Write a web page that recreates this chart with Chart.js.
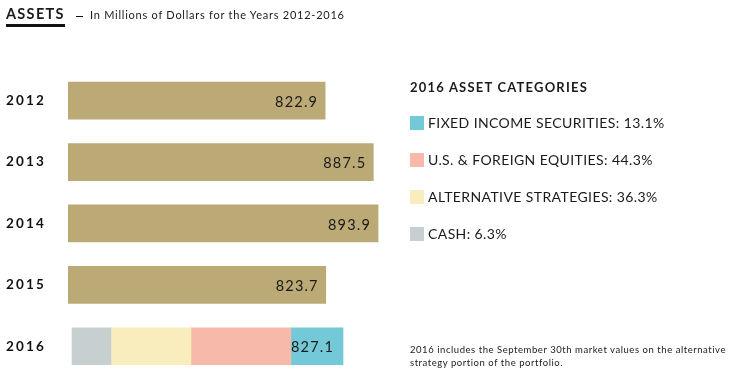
<!DOCTYPE html>
<html>
<head>
<meta charset="utf-8">
<script src="https://cdn.jsdelivr.net/npm/chart.js@4.4.1/dist/chart.umd.min.js"></script>
<style>
  html, body { margin: 0; padding: 0; background: #fff; width: 742px; height: 385px; overflow: hidden; font-family: Lato, "Open Sans", sans-serif; color: #1a1a1a; }
  #wrap { position: absolute; left: 0; top: 0; width: 742px; height: 385px; }
  #chart { position: absolute; left: 0; top: 0; }
  #title { position: absolute; left: 6px; top: 5px; white-space: nowrap; height: 24px; }
  #title .main { position: absolute; left: 0; top: 0; font-size: 14.5px; font-weight: 700; letter-spacing: 1.3px; line-height: 18px; }
  #title .uline { position: absolute; left: 0; top: 19px; width: 59px; height: 2.6px; background: #111; }
  #title .dash { position: absolute; left: 70px; top: 10.5px; width: 7px; height: 1.8px; background: #111; }
  #title .sub { position: absolute; left: 84px; top: 3px; font-size: 11px; letter-spacing: 0.75px; line-height: 14px; }
  #legend { position: absolute; left: 410px; top: 79px; }
  #legend .head { font-size: 13px; font-weight: 700; letter-spacing: 1.2px; margin-bottom: 9px; white-space: nowrap; }
  #legend .item { display: flex; align-items: center; height: 37px; font-size: 14px; letter-spacing: 0.4px; white-space: nowrap; }
  #legend .sw { width: 14px; height: 14px; margin-right: 4px; }
  #note { position: absolute; left: 410px; top: 343px; font-size: 9.5px; line-height: 13px; letter-spacing: 0.55px; width: 330px; }
</style>
</head>
<body>
<div id="wrap">
  <canvas id="chart" width="742" height="385"></canvas>
  <div id="title"><span class="main">ASSETS</span><span class="uline"></span><span class="dash"></span><span class="sub">In Millions of Dollars for the Years 2012-2016</span></div>
  <div id="legend"></div>
  <div id="note">2016 includes the September 30th market values on the alternative strategy portion of the portfolio.</div>
</div>
<script>
// ---- data ----
const years = ["2012", "2013", "2014", "2015", "2016"];
const assetTotals = [822.9, 887.5, 893.9, 823.7, 827.1];
// 2016 breakdown (bar segments, millions, as drawn)
const segmentNames = ["CASH", "ALTERNATIVE STRATEGIES", "U.S. & FOREIGN EQUITIES", "FIXED INCOME SECURITIES"];
const segmentValues2016 = [119.0, 244.0, 305.0, 159.1];
const segmentPercents = [6.3, 36.3, 44.3, 13.1];
const legendTitle = "2016 ASSET CATEGORIES";

// ---- styles ----
const goldColor = "#BBAA76";
const segmentColors = ["#C8CFD1", "#FAEDBD", "#F7B9AA", "#74C9D8"];

// legend (top-down order: fixed income, equities, alternatives, cash)
const legendEl = document.getElementById("legend");
const head = document.createElement("div");
head.className = "head"; head.textContent = legendTitle; legendEl.appendChild(head);
for (let i = segmentNames.length - 1; i >= 0; i--) {
  const it = document.createElement("div"); it.className = "item";
  const sw = document.createElement("span"); sw.className = "sw"; sw.style.background = segmentColors[i];
  const tx = document.createElement("span"); tx.textContent = segmentNames[i] + ": " + segmentPercents[i] + "%";
  it.appendChild(sw); it.appendChild(tx); legendEl.appendChild(it);
}

const lastIdx = years.length - 1;
const datasets = [{
  label: "Assets",
  data: assetTotals.map((v, i) => i === lastIdx ? null : v),
  backgroundColor: goldColor,
  xAxisID: "x",
  grouped: false,
  barThickness: 37
}];
segmentNames.forEach((n, k) => {
  datasets.push({
    label: n,
    data: years.map((y, i) => i === lastIdx ? segmentValues2016[k] : null),
    backgroundColor: segmentColors[k],
    xAxisID: "x2",
    grouped: false,
    barThickness: 37
  });
});

const valueLabels = {
  id: "valueLabels",
  beforeDraw(chart) { chart.ctx.letterSpacing = "2.2px"; },
  beforeDatasetsDraw(chart) { chart.ctx.letterSpacing = "0px"; },
  afterDatasetsDraw(chart) {
    const ctx = chart.ctx;
    ctx.save();
    ctx.letterSpacing = "1.2px";
    ctx.font = "400 14.5px Lato, sans-serif";
    ctx.fillStyle = "#1a1a1a";
    ctx.textAlign = "right";
    ctx.textBaseline = "middle";
    const m0 = chart.getDatasetMeta(0);
    m0.data.forEach((el, i) => {
      if (i === lastIdx) return;
      ctx.fillText(assetTotals[i].toFixed(1), el.x - 7, el.y + 1.5);
    });
    const mLast = chart.getDatasetMeta(chart.data.datasets.length - 1);
    const el = mLast.data[lastIdx];
    ctx.fillText(assetTotals[lastIdx].toFixed(1), el.x - 9, el.y + 1.5);
    ctx.restore();
  }
};

new Chart(document.getElementById("chart"), {
  type: "bar",
  data: { labels: years, datasets },
  options: {
    indexAxis: "y",
    responsive: false,
    animation: false,
    events: [],
    layout: { padding: { left: 6, right: 362, top: 70, bottom: 7 } },
    plugins: { legend: { display: false }, tooltip: { enabled: false }, title: { display: false } },
    scales: {
      x: { type: "linear", display: false, stacked: true, min: 478, max: 896.5 },
      x2: { type: "linear", display: false, stacked: true, min: -12.2, max: 940 },
      y: {
        stacked: true,
        grid: { display: false, drawTicks: false },
        border: { display: false },
        ticks: { crossAlign: "far", color: "#111", font: { family: "Lato", size: 13.5, weight: "bold" }, padding: 0 },
        afterFit(s) { s.width = 62; }
      }
    }
  },
  plugins: [valueLabels]
});
</script>
</body>
</html>
